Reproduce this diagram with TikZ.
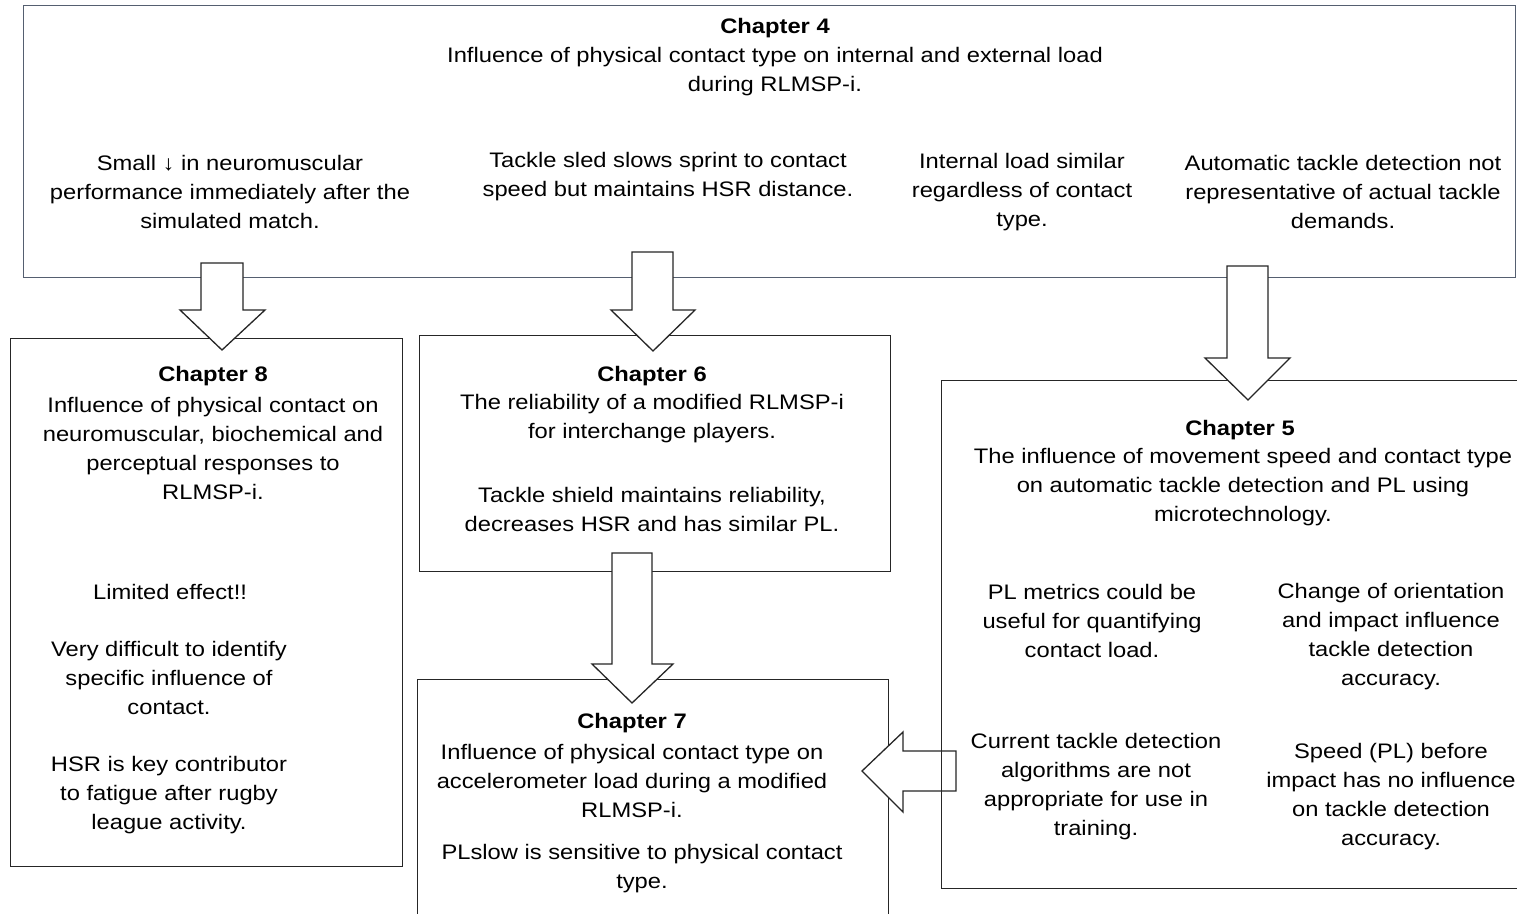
\documentclass[tikz,border=0pt]{standalone}
\usepackage{fontspec}
\setmainfont[FakeStretch=1.13]{Liberation Sans}
\begin{document}
\begin{tikzpicture}[x=1pt,y=-1pt,
  box/.style={draw=black!85,line width=1.3pt,fill=none,inner sep=0pt,anchor=north west},
  topbox/.style={draw={rgb,255:red,85;green,95;blue,112},line width=1.4pt,inner sep=0pt,anchor=north west},
  txt/.style={align=center,inner sep=0pt,font=\fontsize{21}{29}\selectfont},
  ttl/.style={align=center,inner sep=0pt,font=\fontsize{21}{29}\selectfont\bfseries},
  barrow/.style={draw=black!85,line width=1.3pt,fill=white,line join=miter}]
\clip (0,0) rectangle (1517,913);
\fill[white] (0,0) rectangle (1517,913);

% boxes
\node[topbox,minimum width=1492pt,minimum height=272pt] (ch4) at (23,5) {};
\node[box,minimum width=392pt,minimum height=528pt] (ch8) at (10,338) {};
\node[box,minimum width=471pt,minimum height=236pt] (ch6) at (419,335) {};
\node[box,minimum width=471pt,minimum height=250pt] (ch7) at (417,679) {};

% arrow Ch5 -> Ch7 (under Ch5 border)
\draw[barrow] (862,771) -- (903,732) -- (903,751) -- (956,751) -- (956,791) -- (903,791) -- (903,812) -- cycle;

\node[box,minimum width=590pt,minimum height=508pt] (ch5) at (941,380) {};

% down arrows
\draw[barrow] (201,263) -- (243,263) -- (243,310) -- (265,310) -- (222,350) -- (180,310) -- (201,310) -- cycle;
\draw[barrow] (632,252) -- (673,252) -- (673,310) -- (695,310) -- (653,351) -- (611,310) -- (632,310) -- cycle;
\draw[barrow] (1227,266) -- (1268,266) -- (1268,358) -- (1290,358) -- (1248,400) -- (1205,358) -- (1227,358) -- cycle;
\draw[barrow] (612,553) -- (652,553) -- (652,664) -- (673,664) -- (632,703) -- (592,664) -- (612,664) -- cycle;

% Chapter 4 texts
\node[ttl] (t4) at (775,28) {Chapter 4};
\node[txt] (t4a) at (775,72) {Influence of physical contact type on internal and external load\\during RLMSP-i.};
\node[txt] (t4b) at (230,192) {Small ↓ in neuromuscular\\performance immediately after the\\simulated match.};
\node[txt] (t4c) at (668,177) {Tackle sled slows sprint to contact\\speed but maintains HSR distance.};
\node[txt] (t4d) at (1022,192) {Internal load similar\\regardless of contact\\type.};
\node[txt] (t4e) at (1343,192) {Automatic tackle detection not\\representative of actual tackle\\demands.};

% Chapter 8 texts
\node[ttl] (t8) at (213,376) {Chapter 8};
\node[txt] (t8a) at (213,448) {Influence of physical contact on\\neuromuscular, biochemical and\\perceptual responses to\\RLMSP-i.};
\node[txt] (t8b) at (170,592) {Limited effect!!};
\node[txt] (t8c) at (169,678) {Very difficult to identify\\specific influence of\\contact.};
\node[txt] (t8d) at (169,795) {HSR is key contributor\\to fatigue after rugby\\league activity.};

% Chapter 6 texts
\node[ttl] (t6) at (652,376) {Chapter 6};
\node[txt] (t6a) at (652,419) {The reliability of a modified RLMSP-i\\for interchange players.};
\node[txt] (t6b) at (652,509) {Tackle shield maintains reliability,\\decreases HSR and has similar PL.};

% Chapter 7 texts
\node[ttl] (t7) at (632,723) {Chapter 7};
\node[txt] (t7a) at (632,781) {Influence of physical contact type on\\accelerometer load during a modified\\RLMSP-i.};
\node[txt] (t7b) at (642,869) {PLslow is sensitive to physical contact\\type.};

% Chapter 5 texts
\node[ttl] (t5) at (1240,430) {Chapter 5};
\node[txt] (t5a) at (1243,487) {The influence of movement speed and contact type\\on automatic tackle detection and PL using\\microtechnology.};
\node[txt] (t5b) at (1092,621) {PL metrics could be\\useful for quantifying\\contact load.};
\node[txt] (t5c) at (1391,637) {Change of orientation\\and impact influence\\tackle detection\\accuracy.};
\node[txt] (t5d) at (1096,787) {Current tackle detection\\algorithms are not\\appropriate for use in\\training.};
\node[txt] (t5e) at (1391,797) {Speed (PL) before\\impact has no influence\\on tackle detection\\accuracy.};
\end{tikzpicture}
\end{document}
